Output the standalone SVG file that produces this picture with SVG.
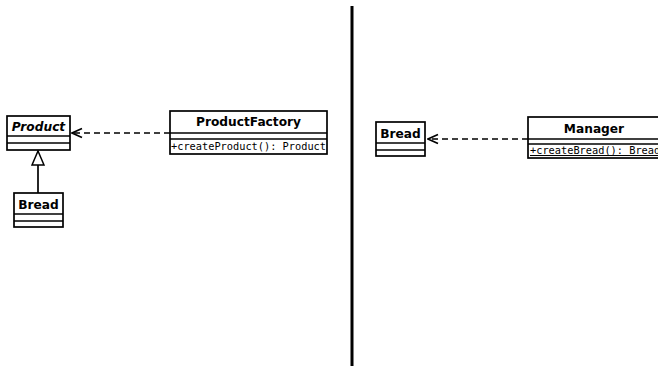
<svg xmlns="http://www.w3.org/2000/svg" width="658" height="366" viewBox="0 0 658 366">
  <style>
    .box { fill: #ffffff; stroke: #000000; stroke-width: 1.7; }
    .sep { stroke: #000000; stroke-width: 1.7; fill: none; }
    .name { font-family: "DejaVu Sans", sans-serif; font-weight: bold; font-size: 12.2px; text-anchor: middle; fill: #000; }
    .abstract { font-style: italic; }
    .op { font-family: "DejaVu Sans Mono", monospace; font-size: 10.3px; fill: #000; }
    .static { text-decoration: underline; }
    .dep { stroke: #000; stroke-width: 1.7; stroke-dasharray: 6 4; fill: none; }
    .gen { stroke: #000; stroke-width: 1.7; fill: none; }
  </style>
  <defs>
    <marker id="open-arrow" viewBox="0 0 12 12" refX="11" refY="6" markerWidth="12" markerHeight="12" markerUnits="userSpaceOnUse" orient="auto">
      <path d="M1,1.5 L11,6 L1,10.5" fill="none" stroke="#000" stroke-width="1.7"/>
    </marker>
    <marker id="hollow-triangle" viewBox="0 0 16 14" refX="15" refY="7" markerWidth="16" markerHeight="14" markerUnits="userSpaceOnUse" orient="auto">
      <path d="M1,1 L15,7 L1,13 Z" fill="#fff" stroke="#000" stroke-width="1.5"/>
    </marker>
  </defs>
  <rect width="658" height="366" fill="#ffffff"/>

  <!-- separator between the two views -->
  <line x1="352" y1="6" x2="352" y2="366" stroke="#000" stroke-width="3"/>

  <g id="connectors">
    <path class="dep" d="M170,133 L72,133" marker-end="url(#open-arrow)"/>
    <path class="gen" d="M38,193 L38,151" marker-end="url(#hollow-triangle)"/>
    <path class="dep" d="M528,139 L428,139" marker-end="url(#open-arrow)"/>
  </g>

  <g id="product">
    <rect class="box" x="7" y="116" width="63" height="34"/>
    <line class="sep" x1="7" y1="136" x2="70" y2="136"/>
    <line class="sep" x1="7" y1="143" x2="70" y2="143"/>
    <text class="name abstract" x="38.5" y="131">Product</text>
  </g>

  <g id="bread-left">
    <rect class="box" x="14" y="193" width="49" height="34"/>
    <line class="sep" x1="14" y1="214" x2="63" y2="214"/>
    <line class="sep" x1="14" y1="221" x2="63" y2="221"/>
    <text class="name" x="38.5" y="209">Bread</text>
  </g>

  <g id="product-factory">
    <rect class="box" x="170" y="111" width="157" height="43"/>
    <line class="sep" x1="170" y1="133" x2="327" y2="133"/>
    <line class="sep" x1="170" y1="139" x2="327" y2="139"/>
    <text class="name" x="248.5" y="126">ProductFactory</text>
    <text class="op" x="171" y="150">+createProduct(): Product</text>
  </g>

  <g id="bread-right">
    <rect class="box" x="376" y="122" width="49" height="34"/>
    <line class="sep" x1="376" y1="143" x2="425" y2="143"/>
    <line class="sep" x1="376" y1="150" x2="425" y2="150"/>
    <text class="name" x="400.5" y="138">Bread</text>
  </g>

  <g id="manager">
    <rect class="box" x="528" y="117" width="137" height="41"/>
    <line class="sep" x1="528" y1="139" x2="665" y2="139"/>
    <line class="sep" x1="528" y1="144" x2="665" y2="144"/>
    <text class="name" x="594" y="133">Manager</text>
    <text class="op static" x="530" y="154">+createBread(): Bread</text>
  </g>
</svg>
